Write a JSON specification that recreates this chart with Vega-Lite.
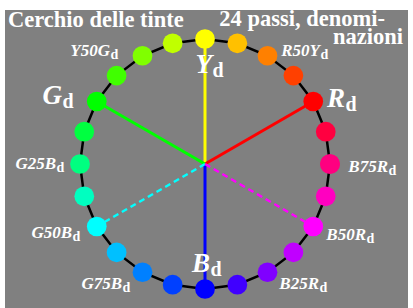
{
  "$schema": "https://vega.github.io/schema/vega-lite/v6.json",
  "width": 403,
  "height": 298,
  "autosize": {"type": "none"},
  "padding": {"left": 5, "top": 10, "right": 5, "bottom": 0},
  "background": "white",
  "view": {"fill": "#808080", "stroke": null},
  "datasets": {
    "dots": [
      {"i": 0, "x": 1, "y": 0, "c": "#ff0080"},
      {"i": 1, "x": 0.9659, "y": 0.2588, "c": "#ff0040"},
      {"i": 2, "x": 0.866, "y": 0.5, "c": "#ff0000"},
      {"i": 3, "x": 0.7071, "y": 0.7071, "c": "#ff4000"},
      {"i": 4, "x": 0.5, "y": 0.866, "c": "#ff8000"},
      {"i": 5, "x": 0.2588, "y": 0.9659, "c": "#ffc000"},
      {"i": 6, "x": 0, "y": 1, "c": "#ffff00"},
      {"i": 7, "x": -0.2588, "y": 0.9659, "c": "#c0ff00"},
      {"i": 8, "x": -0.5, "y": 0.866, "c": "#80ff00"},
      {"i": 9, "x": -0.7071, "y": 0.7071, "c": "#40ff00"},
      {"i": 10, "x": -0.866, "y": 0.5, "c": "#00ff00"},
      {"i": 11, "x": -0.9659, "y": 0.2588, "c": "#00ff40"},
      {"i": 12, "x": -1, "y": 0, "c": "#00ff80"},
      {"i": 13, "x": -0.9659, "y": -0.2588, "c": "#00ffc0"},
      {"i": 14, "x": -0.866, "y": -0.5, "c": "#00ffff"},
      {"i": 15, "x": -0.7071, "y": -0.7071, "c": "#00c0ff"},
      {"i": 16, "x": -0.5, "y": -0.866, "c": "#0080ff"},
      {"i": 17, "x": -0.2588, "y": -0.9659, "c": "#0040ff"},
      {"i": 18, "x": 0, "y": -1, "c": "#0000ff"},
      {"i": 19, "x": 0.2588, "y": -0.9659, "c": "#4000ff"},
      {"i": 20, "x": 0.5, "y": -0.866, "c": "#8000ff"},
      {"i": 21, "x": 0.7071, "y": -0.7071, "c": "#c000ff"},
      {"i": 22, "x": 0.866, "y": -0.5, "c": "#ff00ff"},
      {"i": 23, "x": 0.9659, "y": -0.2588, "c": "#ff00c0"},
      {"i": 24, "x": 1, "y": 0, "c": "#ff0080"}
    ],
    "spokes": [
      {"x": 0, "y": 0, "x2": 0, "y2": 1, "c": "#ffff00", "dash": "no"},
      {"x": 0, "y": 0, "x2": 0.866, "y2": 0.5, "c": "#ff0000", "dash": "no"},
      {"x": 0, "y": 0, "x2": -0.866, "y2": 0.5, "c": "#00ff00", "dash": "no"},
      {"x": 0, "y": 0, "x2": 0, "y2": -1, "c": "#0000ff", "dash": "no"},
      {"x": 0, "y": 0, "x2": -0.866, "y2": -0.5, "c": "#00ffff", "dash": "yes"},
      {"x": 0, "y": 0, "x2": 0.866, "y2": -0.5, "c": "#ff00ff", "dash": "yes"}
    ],
    "small": [
      {"t": "Y50G", "x": -0.76, "y": 0.864},
      {"t": "R50Y", "x": 0.92, "y": 0.864},
      {"t": "G25B", "x": -1.192, "y": -0.04},
      {"t": "B75R", "x": 1.464, "y": -0.064},
      {"t": "G50B", "x": -1.064, "y": -0.592},
      {"t": "B50R", "x": 1.288, "y": -0.608},
      {"t": "G75B", "x": -0.664, "y": -1.0},
      {"t": "B25R", "x": 0.912, "y": -1.0}
    ],
    "big": [
      {"t": "Y", "x": 0.056, "y": 0.728},
      {"t": "G", "x": -1.144, "y": 0.48},
      {"t": "R", "x": 1.12, "y": 0.456},
      {"t": "B", "x": 0.04, "y": -0.864}
    ],
    "titleLeft": [
      {"t": "Cerchio delle tinte", "x": -1.576, "y": 1.1}
    ],
    "titleRight": [
      {"t": "24 passi, denomi-", "x": 1.44, "y": 1.104},
      {"t": "nazioni", "x": 1.584, "y": 0.96}
    ]
  },
  "encoding": {
    "x": {"field": "x", "type": "quantitative", "scale": {"domain": [-1.6, 1.624], "zero": false, "nice": false}, "axis": null},
    "y": {"field": "y", "type": "quantitative", "scale": {"domain": [-1.152, 1.232], "zero": false, "nice": false}, "axis": null}
  },
  "layer": [
    {
      "data": {"name": "dots"},
      "mark": {"type": "line", "color": "black", "strokeWidth": 2.5},
      "encoding": {"order": {"field": "i", "type": "quantitative"}}
    },
    {
      "data": {"name": "spokes"},
      "transform": [{"filter": "datum.dash == 'no'"}],
      "mark": {"type": "rule", "strokeWidth": 3},
      "encoding": {
        "x2": {"field": "x2"},
        "y2": {"field": "y2"},
        "color": {"field": "c", "type": "nominal", "scale": null}
      }
    },
    {
      "data": {"name": "spokes"},
      "transform": [{"filter": "datum.dash == 'yes'"}],
      "mark": {"type": "rule", "strokeWidth": 2.5, "strokeDash": [6, 4]},
      "encoding": {
        "x2": {"field": "x2"},
        "y2": {"field": "y2"},
        "color": {"field": "c", "type": "nominal", "scale": null}
      }
    },
    {
      "data": {"name": "dots"},
      "mark": {"type": "point", "filled": true, "opacity": 1, "size": 390, "strokeWidth": 0},
      "encoding": {"color": {"field": "c", "type": "nominal", "scale": null}}
    },
    {
      "data": {"name": "small"},
      "mark": {"type": "text", "align": "right", "baseline": "alphabetic", "font": "Liberation Serif", "fontWeight": "bold", "fontStyle": "italic", "fontSize": 17, "color": "white"},
      "encoding": {"text": {"field": "t"}}
    },
    {
      "data": {"name": "small"},
      "mark": {"type": "text", "align": "left", "baseline": "alphabetic", "font": "Liberation Serif", "fontWeight": "bold", "fontSize": 14, "dy": 3, "dx": 0.5, "color": "white"},
      "encoding": {"text": {"value": "d"}}
    },
    {
      "data": {"name": "big"},
      "mark": {"type": "text", "align": "right", "baseline": "alphabetic", "font": "Liberation Serif", "fontWeight": "bold", "fontStyle": "italic", "fontSize": 27, "color": "white"},
      "encoding": {"text": {"field": "t"}}
    },
    {
      "data": {"name": "big"},
      "mark": {"type": "text", "align": "left", "baseline": "alphabetic", "font": "Liberation Serif", "fontWeight": "bold", "fontSize": 20, "dy": 4, "dx": 0.5, "color": "white"},
      "encoding": {"text": {"value": "d"}}
    },
    {
      "data": {"name": "titleLeft"},
      "mark": {"type": "text", "align": "left", "baseline": "alphabetic", "font": "Liberation Serif", "fontWeight": "bold", "fontSize": 22.5, "color": "white"},
      "encoding": {"text": {"field": "t"}}
    },
    {
      "data": {"name": "titleRight"},
      "mark": {"type": "text", "align": "right", "baseline": "alphabetic", "font": "Liberation Serif", "fontWeight": "bold", "fontSize": 22.5, "color": "white"},
      "encoding": {"text": {"field": "t"}}
    }
  ]
}
